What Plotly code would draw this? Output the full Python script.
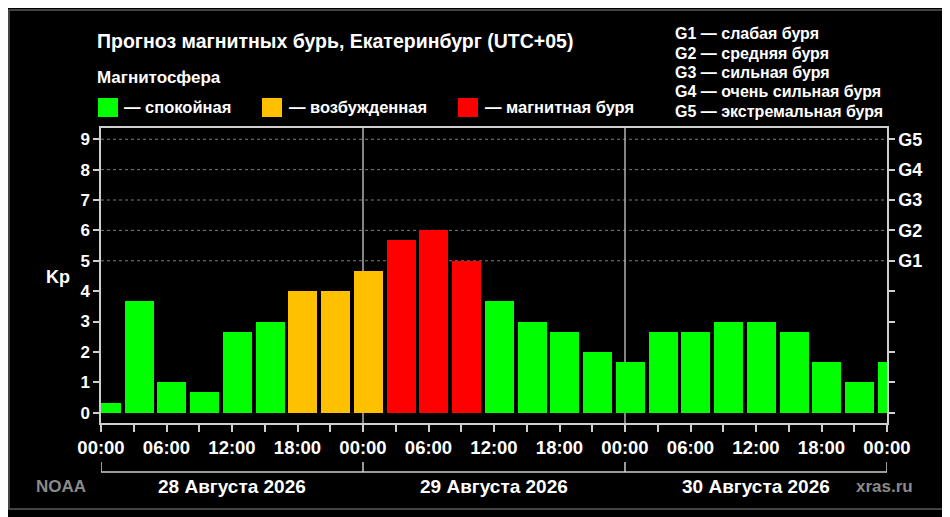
import plotly.graph_objects as go

# =====================================================
# DATA - Kp forecast, 3-hour bins, local time (UTC+05)
# =====================================================

bin_centers = [
    "2026-08-28 00:30", "2026-08-28 03:30", "2026-08-28 06:30", "2026-08-28 09:30",
    "2026-08-28 12:30", "2026-08-28 15:30", "2026-08-28 18:30", "2026-08-28 21:30",
    "2026-08-29 00:30", "2026-08-29 03:30", "2026-08-29 06:30", "2026-08-29 09:30",
    "2026-08-29 12:30", "2026-08-29 15:30", "2026-08-29 18:30", "2026-08-29 21:30",
    "2026-08-30 00:30", "2026-08-30 03:30", "2026-08-30 06:30", "2026-08-30 09:30",
    "2026-08-30 12:30", "2026-08-30 15:30", "2026-08-30 18:30", "2026-08-30 21:30",
    "2026-08-31 00:30",
]

kp = [
    0.33, 3.67, 1.00, 0.67, 2.67, 3.00, 4.00, 4.00,
    4.67, 5.67, 6.00, 5.00, 3.67, 3.00, 2.67, 2.00,
    1.67, 2.67, 2.67, 3.00, 3.00, 2.67, 1.67, 1.00,
    1.67,
]

days = ["2026-08-28", "2026-08-29", "2026-08-30", "2026-08-31"]
day_labels = ["28 Августа 2026", "29 Августа 2026", "30 Августа 2026"]
day_centers = ["2026-08-28 12:00", "2026-08-29 12:00", "2026-08-30 12:00"]

hour_labels = ["00:00", "06:00", "12:00", "18:00"]

g_levels = [5, 6, 7, 8, 9]
g_names = ["G1", "G2", "G3", "G4", "G5"]
g_legend = [
    "G1 — слабая буря",
    "G2 — средняя буря",
    "G3 — сильная буря",
    "G4 — очень сильная буря",
    "G5 — экстремальная буря",
]

state_names = ["— спокойная", "— возбужденная", "— магнитная буря"]

# =====================================================
# THEME
# =====================================================

GREEN = "#00FF00"
ORANGE = "#FFC000"
RED = "#FF0000"
AXIS = "#CFCFCF"
FONT = "Liberation Sans, Arial, sans-serif"

# page has an 8px body margin, so layout is worked out in screen pixels
OFF = 8
W, H = 950 - OFF, 517 - OFF
PLOT_L, PLOT_R, PLOT_T, PLOT_B = 101, 887, 128, 423
L, T = PLOT_L - OFF, PLOT_T - OFF
R, B = W - (PLOT_R - OFF), H - (PLOT_B - OFF)
PW, PH = PLOT_R - PLOT_L, PLOT_B - PLOT_T


def fx(p):
    return (p - PLOT_L) / PW


def fy(p):
    return (PLOT_B - p) / PH


def kp_color(v):
    if v >= 5:
        return RED
    if v >= 4:
        return ORANGE
    return GREEN


# =====================================================
# FIGURE
# =====================================================

fig = go.Figure()

fig.add_trace(
    go.Bar(
        x=bin_centers,
        y=kp,
        width=2.66 * 3600 * 1000,
        marker=dict(color=[kp_color(v) for v in kp], line=dict(width=0)),
        hoverinfo="skip",
        showlegend=False,
    )
)

# empty trace so the right (G) axis is drawn
fig.add_trace(go.Scatter(x=[bin_centers[0]], y=[None], yaxis="y2",
                         showlegend=False, hoverinfo="skip"))

tickvals = [f"{d} {h}" for d in days[:3] for h in hour_labels] + [days[3] + " 00:00"]
ticktext = [h for d in days[:3] for h in hour_labels] + ["00:00"]

bold = dict(family=FONT, color="white", weight="bold")

fig.update_layout(
    width=W,
    height=H,
    paper_bgcolor="black",
    plot_bgcolor="black",
    margin=dict(l=L, r=R, t=T, b=B),
    bargap=0,
    xaxis=dict(
        type="date",
        range=[days[0], days[3]],
        tickvals=tickvals,
        ticktext=ticktext,
        ticks="outside",
        ticklen=7,
        tickwidth=1.5,
        tickcolor=AXIS,
        tickfont=dict(**bold, size=18.5),
        minor=dict(dtick=3 * 3600 * 1000, ticks="outside", ticklen=7,
                   tickwidth=1.5, tickcolor=AXIS, showgrid=False),
        showgrid=False,
        showline=True,
        linecolor=AXIS,
        linewidth=1.5,
        mirror=True,
        zeroline=False,
    ),
    yaxis=dict(
        range=[-0.34, 9.37],
        tickvals=list(range(10)),
        ticks="outside",
        ticklen=6,
        tickwidth=1.5,
        tickcolor=AXIS,
        tickfont=dict(**bold, size=17),
        showgrid=False,
        showline=True,
        linecolor=AXIS,
        linewidth=1.5,
        zeroline=False,
    ),
    yaxis2=dict(
        overlaying="y",
        side="right",
        range=[-0.34, 9.37],
        tickvals=list(range(10)),
        ticktext=[""] * 5 + g_names,
        ticks="outside",
        ticklen=6,
        tickwidth=1.5,
        tickcolor=AXIS,
        tickfont=dict(**bold, size=18),
        showgrid=False,
        showline=True,
        linecolor=AXIS,
        linewidth=1.5,
        zeroline=False,
    ),
)

shapes = []

# outer frame
shapes.append(dict(type="rect", xref="paper", yref="paper",
                   x0=fx(OFF + 1), x1=fx(943), y0=fy(509), y1=fy(10),
                   line=dict(color="#5A5A5A", width=1.5)))

# dashed grid for storm levels
for g in g_levels:
    shapes.append(dict(type="line", xref="paper", yref="y", x0=0, x1=1, y0=g, y1=g,
                       line=dict(color="#7A7A7A", width=1, dash="3px,3px"), layer="below"))

# day separators
for d in days[1:3]:
    shapes.append(dict(type="line", xref="x", yref="paper", x0=d, x1=d, y0=0, y1=1,
                       line=dict(color="#B0B0B0", width=1.5), layer="below"))

# day bracket under the axis
shapes.append(dict(type="line", xref="x", yref="paper", x0=days[0], x1=days[3],
                   y0=fy(472), y1=fy(472), line=dict(color=AXIS, width=1.5)))
for d in days:
    shapes.append(dict(type="line", xref="x", yref="paper", x0=d, x1=d,
                       y0=fy(462), y1=fy(472), line=dict(color=AXIS, width=1.5)))

# legend squares
for x0, c in zip([98, 262, 458], [GREEN, ORANGE, RED]):
    shapes.append(dict(type="rect", xref="paper", yref="paper",
                       x0=fx(x0), x1=fx(x0 + 20), y0=fy(117), y1=fy(98),
                       fillcolor=c, line=dict(width=0)))

annotations = []


def note(text, x, y, size=15, color="white", xanchor="left", xref="paper"):
    annotations.append(dict(
        text=text, x=x if xref == "x" else fx(x), y=fy(y), xref=xref, yref="paper",
        xanchor=xanchor, yanchor="middle", showarrow=False,
        font=dict(family=FONT, size=size, color=color, weight="bold"),
    ))


note("Прогноз магнитных бурь, Екатеринбург (UTC+05)", 95, 41, size=19.5)
note("Магнитосфера", 95, 77, size=17)
for x0, name in zip([122, 287, 483], state_names):
    note(name, x0, 107, size=16.5)

for i, line in enumerate(g_legend):
    note(line, 673, 34 + i * 19.3, size=16)

note("Kp", 58, 277, size=18, xanchor="center")

for c, lab in zip(day_centers, day_labels):
    note(lab, c, 486, size=19, xanchor="center", xref="x")

note("NOAA", 61, 486, size=17, color="#8A8A8A", xanchor="center")
note("xras.ru", 884, 486, size=17, color="#8A8A8A", xanchor="center")

fig.update_layout(shapes=shapes, annotations=annotations)

fig.write_html("out.html")
